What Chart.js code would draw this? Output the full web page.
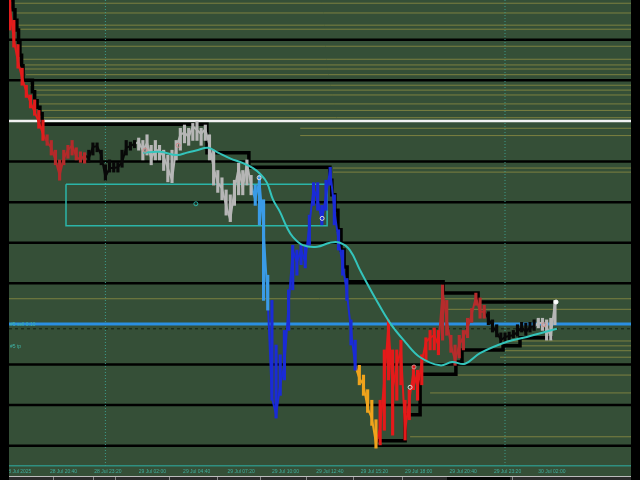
<!DOCTYPE html>
<html lang="en">
<head>
<meta charset="UTF-8">
<title>XAUUSD M15</title>
<script src="https://cdn.jsdelivr.net/npm/chart.js"></script>
<style>
  html, body { margin: 0; padding: 0; background: #000; }
  #wrap { width: 640px; height: 480px; }
</style>
</head>
<body>
<div id="wrap"><canvas id="chart" width="640" height="480"></canvas></div>
<script>
// time axis: minutes from 28 Jul 18:00, one bar every 15 minutes
const priceStep = 15;
const prices = [
  3354.3, 3350.0, 3347.3, 3345.3, 3343.6, 3342.3, 3341.1, 3339.9, 3338.4, 3337.4,
  3336.7, 3335.2, 3333.3, 3335.4, 3336.4, 3337.0, 3335.6, 3335.2, 3335.8, 3335.4,
  3336.8, 3336.9, 3335.8, 3333.1, 3334.2, 3334.2, 3334.3, 3334.9, 3336.7, 3336.9,
  3337.2, 3337.4, 3336.4, 3337.3, 3335.4, 3336.4, 3336.4, 3335.6, 3334.2, 3332.7,
  3336.7, 3338.3, 3338.6, 3338.0, 3339.3, 3338.9, 3338.4, 3339.0, 3337.0, 3334.2,
  3332.4, 3331.7, 3329.6, 3327.8, 3331.5, 3334.2, 3331.7, 3334.8, 3332.1, 3330.3,
  3332.7, 3326.6, 3317.9, 3305.9, 3303.8, 3307.5, 3309.9, 3317.3, 3324.1, 3322.6,
  3324.1, 3322.6, 3327.2, 3331.7, 3330.3, 3327.6, 3330.9, 3334.0, 3329.0, 3325.3,
  3322.3, 3318.9, 3314.2, 3309.9, 3308.3, 3307.5, 3304.6, 3303.4, 3300.3, 3302.2,
  3308.1, 3314.9, 3306.9, 3309.9, 3311.8, 3301.9, 3305.6, 3309.1, 3307.1, 3310.3,
  3312.8, 3313.3, 3313.6, 3312.4, 3318.9, 3315.5, 3312.4, 3310.5, 3312.4, 3313.4,
  3314.5, 3316.2, 3318.3, 3316.5, 3316.5, 3315.7, 3314.7, 3314.0, 3313.0, 3313.4,
  3313.5, 3313.6, 3314.0, 3314.6, 3314.0, 3314.6, 3314.7, 3315.1, 3315.1, 3314.6,
  3313.5, 3317.7
];
const highs = [
  3354.9, 3352.4, 3349.4, 3346.5, 3344.4, 3343.2, 3342.6, 3341.3, 3340.1, 3338.3,
  3337.6, 3336.4, 3335.2, 3336.4, 3337.0, 3337.6, 3336.7, 3336.2, 3336.1, 3336.4,
  3337.3, 3337.3, 3336.4, 3334.6, 3335.2, 3334.9, 3334.9, 3336.4, 3337.6, 3337.4,
  3337.6, 3337.9, 3337.6, 3338.3, 3337.0, 3337.6, 3337.0, 3336.4, 3335.8, 3336.4,
  3337.6, 3339.1, 3339.5, 3339.1, 3339.7, 3339.9, 3339.1, 3339.5, 3338.3, 3336.4,
  3333.9, 3333.0, 3331.5, 3330.9, 3332.7, 3334.8, 3333.9, 3335.2, 3333.3, 3332.1,
  3333.3, 3330.3, 3321.0, 3317.9, 3312.4, 3311.2, 3314.2, 3319.2, 3324.7, 3324.1,
  3324.7, 3324.7, 3328.4, 3332.4, 3332.4, 3329.6, 3332.7, 3334.3, 3330.9, 3326.6,
  3324.1, 3320.6, 3315.5, 3313.0, 3309.9, 3308.7, 3306.9, 3305.6, 3303.2, 3305.6,
  3311.8, 3315.5, 3311.8, 3311.8, 3313.0, 3305.6, 3306.9, 3309.9, 3309.3, 3311.2,
  3313.3, 3314.2, 3314.5, 3314.2, 3319.8, 3317.9, 3313.6, 3312.4, 3313.6, 3314.2,
  3315.7, 3316.9, 3318.8, 3318.2, 3317.3, 3316.5, 3315.5, 3314.9, 3313.9, 3313.9,
  3314.0, 3314.2, 3314.9, 3315.2, 3315.1, 3315.2, 3315.5, 3315.7, 3315.7, 3315.5,
  3315.7, 3317.9
];
const lows = [
  3351.2, 3349.1, 3346.5, 3344.4, 3342.9, 3341.6, 3340.7, 3339.1, 3337.6, 3337.0,
  3335.8, 3334.6, 3332.7, 3334.6, 3335.4, 3335.8, 3335.2, 3334.9, 3334.8, 3334.9,
  3335.8, 3336.2, 3334.6, 3332.7, 3333.7, 3333.7, 3333.7, 3334.3, 3335.8, 3336.4,
  3336.7, 3336.4, 3335.2, 3335.8, 3334.6, 3335.2, 3335.2, 3333.9, 3332.5, 3332.4,
  3335.2, 3336.4, 3337.3, 3337.0, 3337.6, 3337.6, 3337.0, 3337.6, 3335.2, 3332.1,
  3331.2, 3330.3, 3328.4, 3327.6, 3329.6, 3330.9, 3330.9, 3332.1, 3330.9, 3329.6,
  3327.2, 3317.9, 3316.7, 3305.6, 3303.4, 3306.2, 3308.1, 3314.2, 3319.2, 3321.0,
  3322.3, 3321.9, 3324.7, 3329.6, 3329.0, 3327.2, 3329.0, 3332.1, 3327.2, 3324.1,
  3321.0, 3317.9, 3312.4, 3309.3, 3307.5, 3306.2, 3304.1, 3302.5, 3299.7, 3300.1,
  3301.9, 3308.1, 3301.3, 3305.6, 3307.5, 3300.7, 3303.2, 3306.9, 3305.6, 3307.5,
  3310.5, 3311.8, 3311.8, 3311.2, 3313.0, 3313.6, 3311.5, 3309.9, 3310.8, 3311.8,
  3313.3, 3315.2, 3317.3, 3315.7, 3315.7, 3314.9, 3314.0, 3313.4, 3312.6, 3312.8,
  3313.0, 3313.3, 3313.5, 3314.0, 3313.6, 3314.0, 3314.2, 3314.5, 3314.2, 3313.0,
  3313.0, 3314.9
];
// first index of each colour run of the price
const zoneStart = [0, 9, 19, 31, 59, 63, 84, 89, 104, 115, 127];
const zoneColor = ['#e21c1c', '#b42a2a', '#080808', '#b6b6b6', '#3a9be6', '#1a2bd6', '#f0a31c', '#e41a1a', '#b62c2c', '#080808', '#b6b6b6'];

// moving average
const maTime  = [496, 557, 618, 654, 690, 730, 766, 809, 856, 892, 917, 942, 964, 989, 1014, 1036, 1072, 1123, 1169, 1205, 1241, 1278, 1332, 1386, 1440, 1494, 1566, 1609, 1656, 1710, 1807, 1879, 1987];
const maPrice = [3336.1, 3336.2, 3335.8, 3336.1, 3336.4, 3336.7, 3336.1, 3335.4, 3334.8, 3334.2, 3333.5, 3332.4, 3330.3, 3328.8, 3326.9, 3325.7, 3324.7, 3324.5, 3325.0, 3325.0, 3324.1, 3321.6, 3318.2, 3315.1, 3312.8, 3310.9, 3309.9, 3310.3, 3310.1, 3311.4, 3312.8, 3313.4, 3314.4];

// price channel (upper / lower), each value holds from its time on
const upTime  = [13, 27, 34, 41, 47, 52, 58, 63, 97, 105, 114, 124, 132, 726, 877, 1169, 1176, 1187, 1198, 1209, 1220, 1231, 1577, 1703, 1973];
const upPrice = [3354.9, 3353.7, 3352.4, 3351.2, 3349.7, 3348.1, 3346.8, 3345.0, 3343.6, 3342.5, 3341.7, 3340.9, 3339.6, 3336.1, 3334.3, 3332.7, 3330.9, 3329.0, 3326.6, 3324.1, 3322.0, 3320.2, 3318.8, 3317.7, 3317.7];
const loTime  = [1342, 1440, 1494, 1623, 1645, 1793, 1854, 1973];
const loPrice = [3300.6, 3303.8, 3308.8, 3310.3, 3311.8, 3312.3, 3313.3, 3313.3];

// round levels, highlighted lines, trade
const roundLevels = [3300, 3305, 3310, 3320, 3325, 3330, 3335, 3345, 3350];
const whiteLevel = 3340;
const tradeOpen = 3315;
const tradeDash = 3314.4;
const tradeTexts = ['#5 sell 0.10', '#5 tp'];
const tradeTextPrice = [3315, 3312.3];

// thin horizontal levels: price and start time
const olivePrice = [3354.5, 3353.3, 3351.8, 3351.3, 3349.2, 3347.6, 3346.9, 3346.4, 3345.7, 3344.4, 3343.8, 3343.2, 3342.1, 3341.3, 3340.4,
                    3339.1, 3338.2, 3334.2, 3333.7, 3318.1, 3316.8, 3312.9, 3312.3, 3311.7, 3310.9, 3308.7, 3306.5, 3301.1];
const oliveFrom  = [27, 38, 45, 49, 52, 59, 63, 70, 74, 88, 99, 106, 114, 121, 132,
                    1062, 1062, 1180, 1180, 0, 1584, 1782, 1782, 1782, 1782, 1530, 1530, 1458];

// box and markers
const boxTime = [218, 1159];
const boxPrice = [3332.2, 3327.1];
const markTime  = [503, 622, 914, 1141, 1472, 1458, 1940, 686, 1984];
const markPrice = [3336.4, 3337.0, 3333.0, 3328.0, 3309.7, 3307.2, 3314.9, 3329.8, 3317.7];
const markColor = ['#d08a8a', '#d08a8a', '#e0e0e0', '#e0e0e0', '#d08a8a', '#e0e0e0', '#d08a8a', '#2bb5a8', '#ffffff'];

// day separators and time labels
const daySeps = [360, 1800];
const tickTimes  = [0, 160, 320, 480, 640, 800, 960, 1120, 1280, 1440, 1600, 1760, 1920];
const tickLabels = ['28 Jul 2025', '28 Jul 20:40', '28 Jul 23:20', '29 Jul 02:00', '29 Jul 04:40', '29 Jul 07:20', '29 Jul 10:00',
                    '29 Jul 12:40', '29 Jul 15:20', '29 Jul 18:00', '29 Jul 20:40', '29 Jul 23:20', '30 Jul 02:00'];

const tMin = 12.6, tMax = 2254;
const pMin = 3297.5, pMax = 3354.9;

function flat(p, from, color, width, order, dash) {
  return {
    data: [{x: from, y: p}, {x: tMax, y: p}],
    borderColor: color, borderWidth: width, borderDash: dash || [],
    pointRadius: 0, clip: 0, order: order
  };
}

function zoneOf(i) {
  let z = 0;
  for (let k = 0; k < zoneStart.length; k++) if (i >= zoneStart[k]) z = k;
  return zoneColor[z];
}

const datasets = [];
olivePrice.forEach((p, k) => datasets.push(flat(p, oliveFrom[k], '#7c8040', 1, 10)));
roundLevels.forEach(p => datasets.push(flat(p, tMin, '#000000', 2.5, 9)));
datasets.push(flat(whiteLevel, tMin, '#f2f2f2', 2.5, 8));
datasets.push(flat(tradeDash, tMin, 'rgba(10,20,10,0.8)', 1, 8, [3, 3]));
datasets.push(flat(tradeOpen, tMin, '#2b8fe2', 3, 8));
daySeps.forEach(t => datasets.push({
  data: [{x: t, y: pMin}, {x: t, y: pMax}],
  borderColor: '#3c9c8c', borderWidth: 1, borderDash: [1, 2], pointRadius: 0, clip: 0, order: 8
}));
datasets.push({
  data: [
    {x: boxTime[0], y: boxPrice[0]}, {x: boxTime[1], y: boxPrice[0]},
    {x: boxTime[1], y: boxPrice[1]}, {x: boxTime[0], y: boxPrice[1]}, {x: boxTime[0], y: boxPrice[0]}
  ],
  borderColor: '#2bb5a8', borderWidth: 1.5, pointRadius: 0, clip: 0, order: 7
});
datasets.push({
  data: upTime.map((t, i) => ({x: t, y: upPrice[i]})),
  stepped: 'before', borderColor: '#000000', borderWidth: 3.5, pointRadius: 0, clip: 0, order: 6
});
datasets.push({
  data: loTime.map((t, i) => ({x: t, y: loPrice[i]})),
  stepped: 'before', borderColor: '#000000', borderWidth: 3.5, pointRadius: 0, clip: 0, order: 6
});
// high-low range of each bar
datasets.push({
  type: 'bar',
  data: prices.map((p, i) => ({x: (i + 1) * priceStep, y: [lows[i], highs[i]]})),
  backgroundColor: c => zoneOf(c.dataIndex),
  barThickness: 2.5, borderWidth: 0, clip: 0, order: 5
});
datasets.push({
  data: prices.map((p, i) => ({x: (i + 1) * priceStep, y: p})),
  borderWidth: 2, pointRadius: 0, clip: 0, order: 5,
  borderJoinStyle: 'round',
  segment: { borderColor: c => zoneOf(c.p1DataIndex) }
});
datasets.push({
  data: maTime.map((t, i) => ({x: t, y: maPrice[i]})),
  borderColor: '#33c4bb', borderWidth: 2, pointRadius: 0, tension: 0.4, clip: 0, order: 4
});
datasets.push({
  data: markTime.map((t, i) => ({x: t, y: markPrice[i]})),
  showLine: false, pointRadius: 2, pointBorderWidth: 1,
  pointBorderColor: markColor, pointBackgroundColor: markColor.map((c, i) => i === markColor.length - 1 ? c : 'rgba(0,0,0,0)'),
  clip: 0, order: 3
});

const frame = {
  id: 'frame',
  beforeDraw(chart) {
    const {ctx, chartArea: a, width, height} = chart;
    ctx.save();
    ctx.fillStyle = '#000';
    ctx.fillRect(0, 0, width, height);
    ctx.fillStyle = '#354f37';
    ctx.fillRect(a.left, 0, a.right - a.left, 476);
    ctx.fillStyle = '#2c2c2c';
    ctx.fillRect(a.left, 477, a.right - a.left, 3);
    ctx.fillStyle = '#bcbcbc';
    ctx.fillRect(a.left, 476, a.right - a.left, 1);
    ctx.fillStyle = '#8a8a8a';
    [53, 93, 115, 169, 217, 260, 306, 353, 402, 512].forEach(x => ctx.fillRect(x, 477, 1, 3));
    ctx.fillStyle = '#050505';
    ctx.fillRect(447, 477, 63, 3);
    ctx.restore();
  },
  afterDraw(chart) {
    const {ctx, chartArea: a, width, height, scales} = chart;
    ctx.save();
    ctx.fillStyle = '#3fb3a4';
    ctx.font = '5px "Liberation Sans"';
    ctx.textBaseline = 'middle';
    tradeTexts.forEach((s, i) => ctx.fillText(s, a.left + 1, scales.y.getPixelForValue(tradeTextPrice[i]) + 1));
    ctx.fillStyle = '#000';
    ctx.fillRect(0, 0, a.left, height);
    ctx.fillRect(a.right, 0, width - a.right, height);
    ctx.restore();
  }
};

new Chart(document.getElementById('chart'), {
  type: 'line',
  data: { datasets: datasets },
  options: {
    responsive: false,
    animation: false,
    events: [],
    layout: { autoPadding: false, padding: { left: 9, right: 9, top: 0, bottom: 0 } },
    plugins: { legend: { display: false }, tooltip: { enabled: false } },
    scales: {
      x: {
        type: 'linear', min: tMin, max: tMax, offset: false,
        afterBuildTicks: s => { s.ticks = tickTimes.map(v => ({value: v})); },
        afterFit: s => { s.height = 14; },
        ticks: {
          callback: (v, i) => tickLabels[i],
          color: '#3fae9e', font: { size: 5, family: 'Liberation Sans' },
          align: 'start', autoSkip: false, maxRotation: 0, padding: 3
        },
        grid: { display: false, drawTicks: false },
        border: { display: true, color: '#2f8f80', width: 1.5 }
      },
      y: { type: 'linear', min: pMin, max: pMax, display: false }
    }
  },
  plugins: [frame]
});
</script>
</body>
</html>
